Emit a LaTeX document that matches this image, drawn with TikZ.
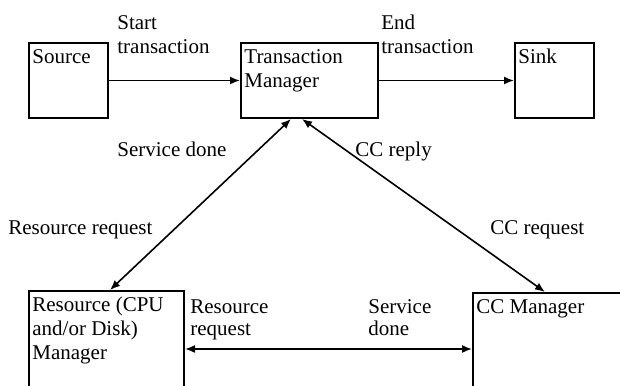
\documentclass[tikz,border=0pt]{standalone}
\usepackage{fontspec}
\setmainfont{Liberation Serif}
\usetikzlibrary{arrows.meta,positioning}
\tikzset{
  blk/.style={draw, line width=1pt, anchor=north west, minimum width=#1, minimum height=37.5pt, inner sep=0pt},
  blktxt/.style={anchor=north west, inner sep=2pt, yshift=-1.5pt, align=left},
  lbl/.style={anchor=base west, inner sep=0pt},
  lbltwo/.style={anchor=north west, inner sep=0pt, align=left},
  arr/.style={-{Latex[length=5pt,width=4pt]}, line width=0.8pt},
  dbl/.style={{Latex[length=5pt,width=4pt]}-{Latex[length=5pt,width=4pt]}, line width=0.8pt}
}
\begin{document}
\begin{tikzpicture}[x=0.5pt, y=-0.5pt, font=\fontsize{10.5}{12}\selectfont]
\path[use as bounding box, clip] (0,0) rectangle (620,385);

% top row
\node[blk=39.5pt, label={[blktxt, name=srctxt]north west:Source}] (src) at (28,42) {};
\node[blk=68.5pt, right=65.5pt of src, label={[blktxt, name=tmtxt]north west:Transaction\\Manager}] (tm) {};
\node[blk=39.5pt, right=67.5pt of tm, label={[blktxt, name=snktxt]north west:Sink}] (snk) {};

% bottom row
\node[blk=77.5pt, minimum height=60pt, font=\fontsize{10.5}{11}\selectfont,
  label={[blktxt, name=rmtxt]north west:Resource (CPU\\and/or Disk)\\Manager}] (rm) at (28,290) {};
\node[blk=90pt, minimum height=60pt, label={[blktxt, name=ccmtxt]north west:CC Manager}] (ccm) at (472,292) {};

% connectors
\draw[arr] (src) -- (tm);
\draw[arr] (tm) -- (snk);
\draw[dbl] ([xshift=41pt]rm.north west) -- ([xshift=25.5pt]tm.south west);
\draw[dbl] ([xshift=31pt]tm.south west) -- ([xshift=36.5pt]ccm.north west);
\draw[dbl] ([yshift=-29.5pt]rm.north east) coordinate (hl) -- (hl -| ccm.west);

% labels
\node[lbltwo] (st) at (117,15) {Start\\transaction};
\node[lbltwo] (et) at (381,15) {End\\transaction};
\node[lbl] (sd) at (117,156) {Service done};
\node[lbl] (ccr) at (355,156) {CC reply};
\node[lbl] (rr) at (8,234) {Resource request};
\node[lbl] (ccq) at (490,234) {CC request};
\begin{scope}[font=\fontsize{10.5}{11}\selectfont]
\node[lbltwo] (rrb) at (190,299) {Resource\\request};
\node[lbltwo] (sdb) at (368,299) {Service\\done};
\end{scope}
\end{tikzpicture}
\end{document}
